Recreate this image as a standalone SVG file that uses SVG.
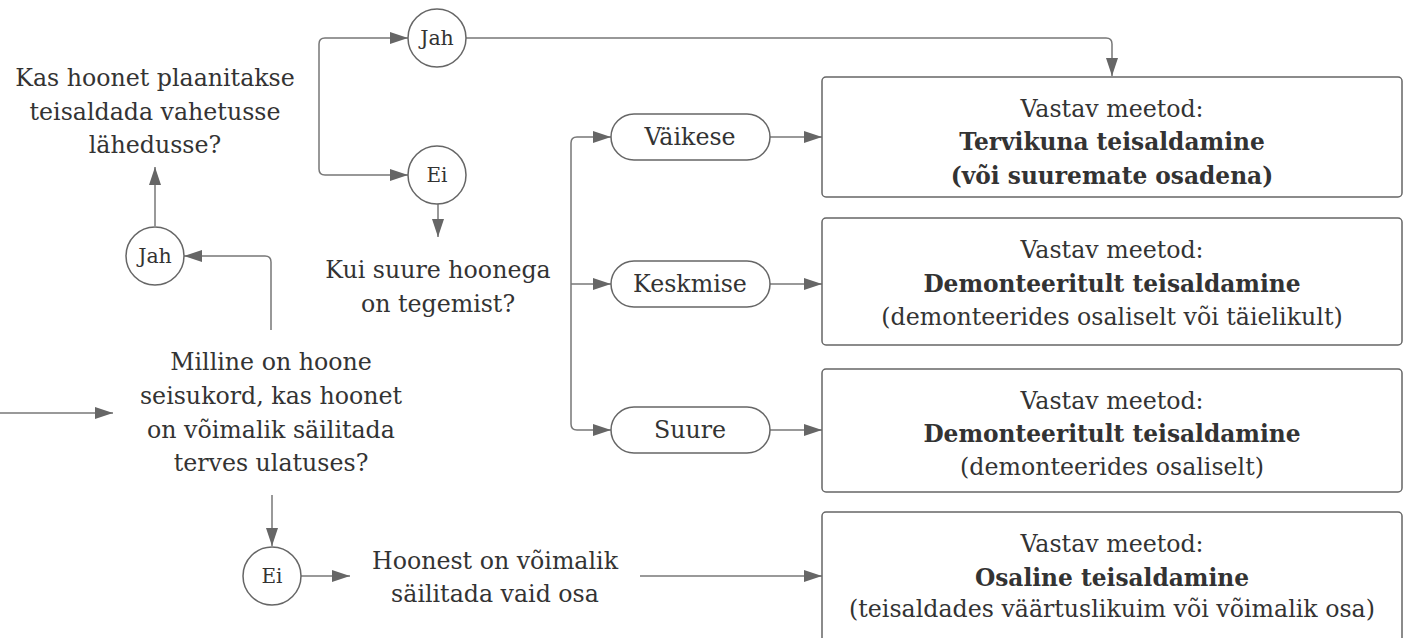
<svg xmlns="http://www.w3.org/2000/svg" width="1408" height="638" viewBox="0 0 1408 638">
<defs>
<marker id="ah" markerUnits="userSpaceOnUse" markerWidth="18" markerHeight="12" refX="18" refY="6" orient="auto">
<path d="M0,0 L18,6 L0,12 z" fill="#666"/>
</marker>
<style>
text{font-family:"DejaVu Serif","Liberation Serif",serif;font-size:23.7px;fill:#333;text-anchor:middle}
.b{font-weight:bold;font-size:23.3px}
.sm{font-size:20.5px}
.xs{font-size:20px}
.c{fill:#fff;stroke:#666;stroke-width:1.5}
.box{fill:#fff;stroke:#666;stroke-width:1.5}
.conn path{fill:none;stroke:#777;stroke-width:1.5;marker-end:url(#ah)}
</style>
</defs>
<rect width="1408" height="638" fill="#fff"/>
<g class="conn" id="connectors">
<path d="M0,413 H113"/>
<path d="M271,330 V262 Q271,256 265,256 H184"/>
<path d="M155,226 V167"/>
<path d="M319,107 V44 Q319,38 325,38 H408"/>
<path d="M319,107 V169 Q319,175 325,175 H408"/>
<path d="M466,38 H1106 Q1112,38 1112,44 V76"/>
<path d="M438,204 V237"/>
<path d="M571,284 V143 Q571,137 577,137 H611"/>
<path d="M571,284 H611"/>
<path d="M571,284 V424 Q571,430 577,430 H611"/>
<path d="M770,137 H822"/>
<path d="M770,284 H822"/>
<path d="M770,430 H822"/>
<path d="M272,495 V546"/>
<path d="M301,576 H350"/>
<path d="M640,576 H822"/>
</g>
<g id="q-main">
<text x="271" y="370">Milline on hoone</text>
<text x="271" y="404">seisukord, kas hoonet</text>
<text x="271" y="438">on võimalik säilitada</text>
<text x="271" y="471">terves ulatuses?</text>
</g>
<g id="c-jah1"><circle class="c" cx="155" cy="256" r="29"/><text class="sm" x="155" y="263">Jah</text></g>
<g id="q-kas">
<text x="155" y="86">Kas hoonet plaanitakse</text>
<text x="155" y="120">teisaldada vahetusse</text>
<text x="155" y="153">lähedusse?</text>
</g>
<g id="c-jah2"><circle class="c" cx="437" cy="38" r="29"/><text class="sm" x="437" y="45">Jah</text></g>
<g id="c-ei1"><circle class="c" cx="437" cy="175" r="29"/><text class="xs" x="437" y="182">Ei</text></g>
<g id="q-kui">
<text x="438" y="278">Kui suure hoonega</text>
<text x="438" y="312">on tegemist?</text>
</g>
<g id="o-vaikese"><rect class="c" x="611" y="114" width="159" height="46" rx="23"/><text x="690" y="145">Väikese</text></g>
<g id="o-keskmise"><rect class="c" x="611" y="261" width="159" height="46" rx="23"/><text x="690" y="292">Keskmise</text></g>
<g id="o-suure"><rect class="c" x="611" y="407" width="159" height="46" rx="23"/><text x="690" y="438">Suure</text></g>
<g id="c-ei2"><circle class="c" cx="272" cy="576" r="29"/><text class="xs" x="272" y="583">Ei</text></g>
<g id="q-hoonest">
<text x="495" y="569">Hoonest on võimalik</text>
<text x="495" y="602">säilitada vaid osa</text>
</g>
<g id="box1"><rect class="box" x="822" y="77" width="580" height="120" rx="4"/>
<text x="1112" y="117">Vastav meetod:</text>
<text class="b" x="1112" y="150">Tervikuna teisaldamine</text>
<text class="b" x="1112" y="184">(või suuremate osadena)</text></g>
<g id="box2"><rect class="box" x="822" y="218" width="580" height="127" rx="4"/>
<text x="1112" y="258">Vastav meetod:</text>
<text class="b" x="1112" y="292">Demonteeritult teisaldamine</text>
<text x="1112" y="325">(demonteerides osaliselt või täielikult)</text></g>
<g id="box3"><rect class="box" x="822" y="369" width="580" height="123" rx="4"/>
<text x="1112" y="409">Vastav meetod:</text>
<text class="b" x="1112" y="442">Demonteeritult teisaldamine</text>
<text x="1112" y="475">(demonteerides osaliselt)</text></g>
<g id="box4"><rect class="box" x="822" y="512" width="580" height="130" rx="4"/>
<text x="1112" y="552">Vastav meetod:</text>
<text class="b" x="1112" y="586">Osaline teisaldamine</text>
<text x="1112" y="617">(teisaldades väärtuslikuim või võimalik osa)</text></g>
</svg>
